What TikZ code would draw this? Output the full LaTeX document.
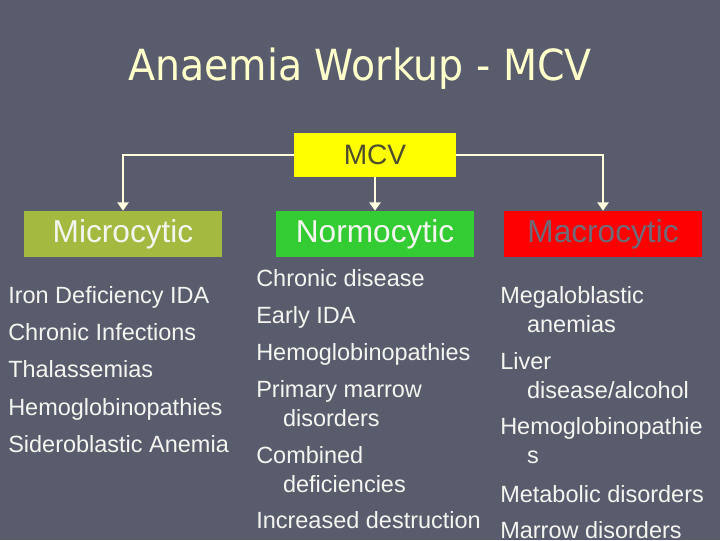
\documentclass[tikz,border=0pt]{standalone}
\usepackage{fontspec}
\setmainfont{Liberation Sans}
\newfontfamily\titlefont[FakeStretch=0.92]{DejaVu Sans}
\usetikzlibrary{arrows.meta}

\definecolor{slidebg}{RGB}{89,92,108}
\definecolor{titlecream}{RGB}{255,255,204}
\definecolor{linecream}{RGB}{255,255,224}
\definecolor{microgreen}{RGB}{163,185,64}
\definecolor{normogreen}{RGB}{51,204,51}
\definecolor{macrored}{RGB}{255,0,0}
\definecolor{mcvyellow}{RGB}{255,255,0}
\definecolor{mcvtext}{RGB}{77,77,46}
\definecolor{macrotext}{RGB}{110,106,120}
\definecolor{listwhite}{RGB}{245,245,240}

\newcommand{\hangin}{\hspace*{0.67cm}}

\begin{document}
\begin{tikzpicture}[
    x=0.025cm, y=-0.025cm,
    headline/.style={anchor=base, text=titlecream, font=\titlefont\fontsize{30.5}{36}\selectfont},
    root/.style={rectangle, fill=mcvyellow, text=mcvtext, minimum width=4.05cm, minimum height=1.1cm, inner sep=0pt, font=\fontsize{20}{24}\selectfont},
    category/.style={rectangle, minimum width=4.95cm, minimum height=1.15cm, inner sep=0pt, font=\fontsize{22.5}{27}\selectfont},
    cause/.style={anchor=base west, align=left, inner sep=0pt, text=listwhite, font=\fontsize{16.7}{20.5}\selectfont},
    flow/.style={-{Triangle[length=6pt, width=8pt]}, line width=1.6pt, draw=linecream}
]

% Slide background
\fill[slidebg] (0,0) rectangle (720,540);
\useasboundingbox (0,0) rectangle (720,540);

% Title
\node[headline] (title) at (360,80) {Anaemia Workup - MCV};

% MCV and the three classes
\node[root] (mcv) at (375,155) {MCV};
\node[category, fill=microgreen, text=listwhite] (micro) at (123,234) {Microcytic};
\node[category, fill=normogreen, text=listwhite] (normo) at (375,234) {Normocytic};
\node[category, fill=macrored, text=macrotext] (macro) at (603,234) {Macrocytic};

% Connectors
\draw[flow] (mcv.west) -| (micro.north);
\draw[flow] (mcv.south) -- (normo.north);
\draw[flow] (mcv.east) -| (macro.north);

% Microcytic causes
\node[cause] (mic1) at (8,303) {Iron Deficiency IDA};
\node[cause] (mic2) at (8,340) {Chronic Infections};
\node[cause] (mic3) at (8,377) {Thalassemias};
\node[cause] (mic4) at (8,415) {Hemoglobinopathies};
\node[cause] (mic5) at (8,452) {Sideroblastic Anemia};

% Normocytic causes (two-line items sit on their last line)
\node[cause] (nor1) at (256,286) {Chronic disease};
\node[cause] (nor2) at (256,323) {Early IDA};
\node[cause] (nor3) at (256,360) {Hemoglobinopathies};
\node[cause] (nor4) at (256,426) {Primary marrow\\\hangin disorders};
\node[cause] (nor5) at (256,492) {Combined\\\hangin deficiencies};
\node[cause] (nor6) at (256,528) {Increased destruction};

% Macrocytic causes
\node[cause] (mac1) at (500,332) {Megaloblastic\\\hangin anemias};
\node[cause] (mac2) at (500,398) {Liver\\\hangin disease/alcohol};
\node[cause] (mac3) at (500,463) {Hemoglobinopathie\\\hangin s};
\node[cause] (mac4) at (500,502) {Metabolic disorders};
\node[cause] (mac5) at (500,538) {Marrow disorders};

\end{tikzpicture}
\end{document}
